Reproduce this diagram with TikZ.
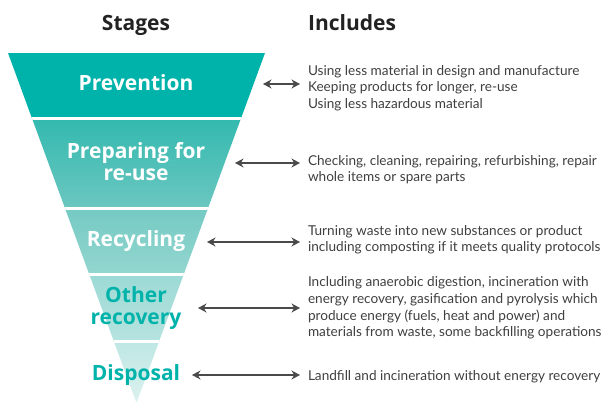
\documentclass[tikz,border=0pt]{standalone}
\usepackage{fontspec}
\setmainfont{Open Sans}
\newfontfamily\bodyfont{Lato}
\usetikzlibrary{arrows.meta,calc}

\definecolor{wteal}{HTML}{00B3AA}
\definecolor{wtext}{HTML}{3F3F3F}
\definecolor{warrow}{HTML}{4A4A4A}
\definecolor{whead}{HTML}{222222}

\begin{document}
\begin{tikzpicture}[
  x=1pt, y=-1pt,
  head/.style={font=\fontsize{21}{24}\selectfont\bfseries, text=whead, inner sep=0pt},
  stage/.style={font=\fontsize{21}{21.5}\selectfont\bfseries, text=white, align=center, inner sep=0pt},
  stagedk/.style={stage, text=wteal},
  incl/.style={font=\bodyfont\fontsize{13.6}{16.7}\selectfont, text=wtext, align=left,
               inner ysep=0pt, inner xsep=0pt, outer xsep=8pt, anchor=base west},
  dbl/.style={{Stealth[length=8.5pt,width=9pt]}-{Stealth[length=8.5pt,width=9pt]},
              line width=2.2pt, draw=warrow},
  gap/.style={draw=white, line width=2.4pt},
]
\useasboundingbox (0,0) rectangle (601,401);

% funnel bands
\begin{scope}
  \clip (8,53) -- (265,53) -- (136.5,403) -- cycle;
  \fill[wteal] (0,53) rectangle (280,118);
  \shade[top color={rgb,255:red,51;green,185;blue,175}, bottom color={rgb,255:red,107;green,199;blue,192}]
    (0,118) rectangle (280,208);
  \shade[top color={rgb,255:red,116;green,202;blue,195}, bottom color={rgb,255:red,148;green,214;blue,208}]
    (0,208) rectangle (280,274);
  \shade[top color={rgb,255:red,156;green,218;blue,213}, bottom color={rgb,255:red,182;green,227;blue,223}]
    (0,274) rectangle (280,341);
  \shade[top color={rgb,255:red,190;green,231;blue,227}, bottom color={rgb,255:red,221;green,242;blue,240}]
    (0,341) rectangle (280,405);
  \foreach \y in {118.3,208.3,274.3,341.3} { \draw[gap] (0,\y) -- (280,\y); }
\end{scope}

% headings
\node[head, anchor=base] (stages) at (136,31) {Stages};
\node[head, anchor=base west] (includes) at (308,31) {Includes};

% stage labels (base = last line)
\node[stage, anchor=base] (lb-prev) at (136,90.7) {Prevention};
\node[stage, anchor=base] (lb-prep) at (136,180) {Preparing for\\re-use};
\node[stage, anchor=base] (lb-recy) at (136,246.7) {Recycling};
\node[stagedk, anchor=base] (lb-other) at (136,324) {Other\\recovery};
\node[stagedk, anchor=base] (lb-disp) at (136,380) {Disposal};

% what each stage includes
\node[incl] (tx-prev) at (300,108.5) {Using less material in design and manufacture\\Keeping products for longer, re-use\\Using less hazardous material};
\node[incl] (tx-prep) at (300,181.8) {Checking, cleaning, repairing, refurbishing, repair\\whole items or spare parts};
\node[incl] (tx-recy) at (300,251.7) {Turning waste into new substances or product\\including composting if it meets quality protocols};
\node[incl] (tx-other) at (300,336.7) {Including anaerobic digestion, incineration with\\energy recovery, gasification and pyrolysis which\\produce energy (fuels, heat and power) and\\materials from waste, some backfilling operations};
\node[incl] (tx-disp) at (300,380) {Landfill and incineration without energy recovery};

% arrows
\coordinate (ar-prev) at (263,84);
\coordinate (ar-prep) at (235,163);
\coordinate (ar-recy) at (207,242);
\coordinate (ar-other) at (198,308);
\coordinate (ar-disp) at (192,375);
\foreach \s in {prev,prep,recy,other,disp} {
  \draw[dbl] (ar-\s) -- (ar-\s -| tx-\s.west);
}

\end{tikzpicture}
\end{document}
